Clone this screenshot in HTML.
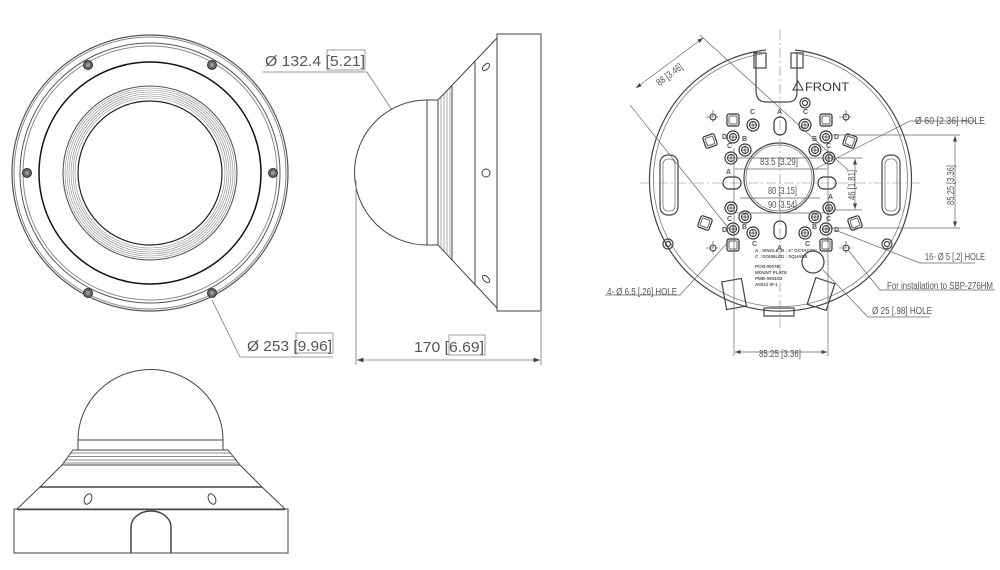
<!DOCTYPE html>
<html><head><meta charset="utf-8"><style>
html,body{margin:0;padding:0;background:#fff;}
svg{display:block;}
text{font-family:"Liberation Sans Narrow","Liberation Sans",sans-serif;fill:#555;}
</style></head><body>
<svg width="1000" height="570" viewBox="0 0 1000 570" xmlns="http://www.w3.org/2000/svg">
<defs>
<marker id="ar" markerWidth="8" markerHeight="6" refX="8" refY="3" orient="auto"><path d="M0,0 L8,3 L0,6z" fill="#444"/></marker>
<marker id="al" markerWidth="8" markerHeight="6" refX="0" refY="3" orient="auto"><path d="M8,0 L0,3 L8,6z" fill="#444"/></marker>
<g id="scr"><circle r="4.5" fill="#666" stroke="#333"/><circle r="2" fill="#999"/></g>
<g id="ring"><circle r="6" fill="none" stroke="#333" stroke-width="1.2"/><circle r="3.5" fill="none" stroke="#333"/><path d="M-3,0H3M0,-3V3" stroke="#333" stroke-width=".7"/></g>
<g id="ch"><circle r="3" fill="none" stroke="#333"/><path d="M-7,0H7M0,-7V7" stroke="#333" stroke-width=".6" stroke-dasharray="3,1.5"/></g>
<g id="sq"><rect x="-6" y="-6" width="12" height="12" rx="2" fill="none" stroke="#333" stroke-width="1.2"/><rect x="-4" y="-4" width="8" height="8" rx="1" fill="none" stroke="#666"/></g>
</defs>

<!-- FRONT VIEW -->
<g fill="none" stroke="#555">
<circle cx="150" cy="173" r="138" stroke-width="1.2"/>
<circle cx="150" cy="173" r="136" stroke="#888"/>
<circle cx="150" cy="173" r="130"/>
<circle cx="150" cy="173" r="127" stroke="#888"/>
<circle cx="150" cy="173" r="111" stroke="#111" stroke-width="1.5"/>
<circle cx="150" cy="173" r="87" stroke-width="1.1"/>
<g stroke="#888" stroke-width=".6">
<circle cx="150" cy="173" r="85"/>
<circle cx="150" cy="173" r="83"/>
<circle cx="150" cy="173" r="81"/>
<circle cx="150" cy="173" r="79"/>
<circle cx="150" cy="173" r="77"/>
<circle cx="150" cy="173" r="75"/>
</g>
<circle cx="150" cy="173" r="72" stroke="#222" stroke-width="1.2"/>
</g>
<use href="#scr" x="88" y="65"/><use href="#scr" x="212" y="65"/>
<use href="#scr" x="27" y="173"/><use href="#scr" x="273" y="173"/>
<use href="#scr" x="88" y="293"/><use href="#scr" x="212" y="293"/>

<!-- leaders -->
<g fill="none" stroke="#777" stroke-width=".8">
<path d="M262,72 H367 L392,110"/>
<path d="M212,300 L240,357 H333"/>
</g>
<text x="265" y="66" font-size="15" textLength="100" lengthAdjust="spacingAndGlyphs">Ø 132.4 [5.21]</text>
<rect x="327" y="50" width="38" height="20" fill="none" stroke="#777" stroke-width=".7"/>
<text x="247" y="351" font-size="15" textLength="85" lengthAdjust="spacingAndGlyphs">Ø 253  [9.96]</text>
<rect x="296" y="333" width="37" height="20" fill="none" stroke="#777" stroke-width=".7"/>

<!-- SIDE VIEW -->
<g fill="none" stroke="#444" stroke-width="1">
<path d="M427,100 A72,72 0 0 0 427,245"/>
<path d="M427,100 V245 M427,100 H438 M427,245 H438"/>
<path d="M438,100 V245 M452,86 V260"/>
<path d="M438,100 L497,38 M438,245 L497,308"/>
<path d="M475,62 V285"/>
<rect x="497" y="34" width="44" height="277"/>
<circle cx="486" cy="173" r="4"/>
<ellipse cx="486" cy="67" rx="2.5" ry="4.5" transform="rotate(45 486 67)"/>
<ellipse cx="486" cy="279" rx="2.5" ry="4.5" transform="rotate(-45 486 279)"/>
</g>
<g stroke="#777" stroke-width=".6">
<path d="M441,97 V248 M444,94 V252 M447,91 V255 M450,88 V258"/>
</g>
<g stroke="#777" stroke-width=".8" fill="none">
<path d="M356,180 V365 M541,312 V365"/>
<path d="M357,360 H540" marker-start="url(#al)" marker-end="url(#ar)"/>
</g>
<text x="414" y="352" font-size="15" textLength="70" lengthAdjust="spacingAndGlyphs">170  [6.69]</text>
<rect x="449" y="335" width="36" height="20" fill="none" stroke="#777" stroke-width=".7"/>

<!-- BOTTOM VIEW -->
<g fill="none" stroke="#444">
<path d="M78,440 A72,70 0 0 1 223,440 M78,440 H223"/>
<path d="M78,440 V450 M223,440 V450"/>
<path d="M73,450 H228 L240,465 H62 Z"/>
<path d="M62,465 L40,487 H262 L240,465"/>
<path d="M40,487 L17,509 H285 L262,487"/>
<rect x="14" y="509" width="274" height="44"/>
<path d="M131,553 V527 A20,16 0 0 1 171,527 V553" stroke-width="1.5"/>
<ellipse cx="88" cy="499" rx="3.5" ry="5.5" transform="rotate(25 88 499)"/>
<ellipse cx="212" cy="499" rx="3.5" ry="5.5" transform="rotate(-25 212 499)"/>
</g>
<g stroke="#666" stroke-width=".7">
<path d="M71,453H231M68,456.5H234M65,460H237M63,463H239"/>
<path d="M40,487H262M17,509.5H285" stroke-width="1.4" stroke="#444"/>
</g>

<!-- MOUNT PLATE -->
<g fill="none" stroke="#444" stroke-width="1.2">
<path d="M766,50 A131,131 0 1 0 795,50"/>
<path d="M762,54 A127,127 0 1 0 799,54" stroke="#777" stroke-width=".8"/>
<path d="M756,52 V90 Q756,102 766,102 H788 Q797,102 797,92 V52"/>
<rect x="754" y="53" width="12" height="15"/><rect x="791" y="53" width="12" height="15"/>
<circle cx="779" cy="178" r="35"/>
<circle cx="779" cy="178" r="33" stroke="#777" stroke-width=".8"/>
<rect x="660" y="155" width="18" height="60" rx="8"/>
<rect x="663" y="159" width="12" height="52" rx="5" stroke="#777" stroke-width=".8"/>
<rect x="882" y="155" width="18" height="60" rx="8"/>
<rect x="885" y="159" width="12" height="52" rx="5" stroke="#777" stroke-width=".8"/>
<rect x="724" y="280" width="20" height="28" transform="rotate(-10 734 294)"/>
<rect x="811" y="280" width="20" height="28" transform="rotate(18 821 294)"/>
<circle cx="813" cy="262" r="11"/>
<rect x="764" y="308" width="30" height="8"/>
<circle cx="668" cy="244" r="5"/><circle cx="668" cy="244" r="2.5"/>
<circle cx="887" cy="244" r="5"/><circle cx="887" cy="244" r="2.5"/>
<circle cx="805" cy="103" r="5"/><circle cx="805" cy="103" r="2.5"/>
</g>
<path d="M780,30 V330 M640,183 H920" stroke="#888" stroke-width=".6" stroke-dasharray="10,3,2,3"/>
<use href="#ring" x="733" y="137"/><use href="#ring" x="826" y="137"/>
<use href="#ring" x="733" y="229"/><use href="#ring" x="826" y="229"/>
<use href="#ring" x="731" y="158"/><use href="#ring" x="829" y="158"/>
<use href="#ring" x="731" y="208"/><use href="#ring" x="829" y="208"/>
<use href="#ring" x="753" y="125"/><use href="#ring" x="805" y="125"/>
<use href="#ring" x="753" y="233"/><use href="#ring" x="805" y="233"/>
<use href="#ring" x="745" y="150"/><use href="#ring" x="815" y="150"/>
<use href="#ring" x="745" y="217"/><use href="#ring" x="815" y="217"/>
<use href="#ch" x="713" y="117"/><use href="#ch" x="846" y="117"/>
<use href="#ch" x="713" y="248"/><use href="#ch" x="846" y="248"/>
<use href="#sq" x="710" y="141" transform="rotate(-20 710 141)"/><use href="#sq" x="850" y="141" transform="rotate(20 850 141)"/>
<use href="#sq" x="705" y="223" transform="rotate(20 705 223)"/><use href="#sq" x="855" y="223" transform="rotate(-20 855 223)"/>
<use href="#sq" x="733" y="120"/><use href="#sq" x="826" y="120"/>
<use href="#sq" x="733" y="245"/><use href="#sq" x="826" y="245"/>
<g fill="none" stroke="#333" stroke-width="1.2">
<rect x="774" y="117" width="12" height="18" rx="6"/><rect x="774" y="221" width="12" height="18" rx="6"/>
<rect x="723" y="177" width="18" height="12" rx="6"/><rect x="818" y="177" width="18" height="12" rx="6"/>
</g>
<g font-size="7" font-weight="bold" style="fill:#222">
<text x="777" y="114">A</text><text x="777" y="250">A</text><text x="726" y="174">A</text><text x="828" y="199">A</text>
<text x="722" y="139">D</text><text x="834" y="139">D</text><text x="722" y="232">D</text><text x="834" y="232">D</text>
<text x="750" y="114">C</text><text x="803" y="114">C</text><text x="727" y="148">C</text><text x="826" y="148">C</text>
<text x="727" y="221">C</text><text x="826" y="221">C</text><text x="752" y="246">C</text><text x="805" y="246">C</text>
<text x="742" y="141">B</text><text x="812" y="141">B</text><text x="742" y="229">B</text><text x="812" y="229">B</text>
</g>
<g font-size="4.5" style="fill:#222" font-weight="bold">
<text x="755" y="252">A : SINGLE</text><text x="781" y="252">B : 4" OCTAGON</text>
<text x="755" y="258">C : DOUBLE</text><text x="781" y="258">D : SQUARE</text>
<text x="755" y="268">PCM-0007B</text><text x="755" y="274">MOUNT PLATE</text>
<text x="755" y="280">PMB-0004G2</text><text x="755" y="286">A0012 IP-1</text>
</g>
<path d="M793,90 L798,81 L803,90 Z" fill="none" stroke="#333"/>
<text x="805" y="91" font-size="12" style="fill:#333" textLength="44" lengthAdjust="spacingAndGlyphs">FRONT</text>

<!-- plate dims -->
<g stroke="#666" stroke-width=".7" fill="none">
<path d="M636,88 L703,38" marker-start="url(#al)" marker-end="url(#ar)"/>
<path d="M630,105 L730,230 M700,35 L848,170"/>
<path d="M734,148 V356 M828,148 V356"/>
<path d="M735,352 H827" marker-start="url(#al)" marker-end="url(#ar)"/>
<path d="M732,158 H862 M828,210 H862"/>
<path d="M855,159 V209" marker-start="url(#al)" marker-end="url(#ar)"/>
<path d="M830,135 H960 M830,228 H960"/>
<path d="M955,136 V227" marker-start="url(#al)" marker-end="url(#ar)"/>
<path d="M735,169 H827 M740,198 H820 M733,213 H828"/>
<path d="M813,170 L910,121 H975"/>
<path d="M835,230 L920,263 H975"/>
<path d="M848,250 L880,290 H995"/>
<path d="M823,270 L868,317 H930"/>
<path d="M730,240 L680,295 H605"/>
</g>
<g font-size="10" style="fill:#555">
<text x="652" y="80" transform="rotate(-37 665 72)" textLength="30" lengthAdjust="spacingAndGlyphs">88 [3.46]</text>
<text x="760" y="165" textLength="38" lengthAdjust="spacingAndGlyphs">83.5 [3.29]</text>
<text x="768" y="194" textLength="29" lengthAdjust="spacingAndGlyphs">80 [3.15]</text>
<text x="768" y="208" textLength="29" lengthAdjust="spacingAndGlyphs">90 [3.54]</text>
<text x="838" y="187" transform="rotate(-90 853 185)" textLength="30" lengthAdjust="spacingAndGlyphs">46 [1.81]</text>
<text x="932" y="187" transform="rotate(-90 952 185)" textLength="40" lengthAdjust="spacingAndGlyphs">85.25 [3.36]</text>
<text x="915" y="124" textLength="70" lengthAdjust="spacingAndGlyphs">Ø 60 [2.36] HOLE</text>
<text x="925" y="260" textLength="60" lengthAdjust="spacingAndGlyphs">16- Ø 5 [.2] HOLE</text>
<text x="887" y="289" textLength="106" lengthAdjust="spacingAndGlyphs">For installation to SBP-276HM</text>
<text x="872" y="314" textLength="60" lengthAdjust="spacingAndGlyphs">Ø 25 [.98] HOLE</text>
<text x="607" y="295" textLength="70" lengthAdjust="spacingAndGlyphs">4- Ø 6.5 [.26] HOLE</text>
<text x="759" y="357" textLength="42" lengthAdjust="spacingAndGlyphs">85.25 [3.36]</text>
</g>
</svg>
</body></html>
